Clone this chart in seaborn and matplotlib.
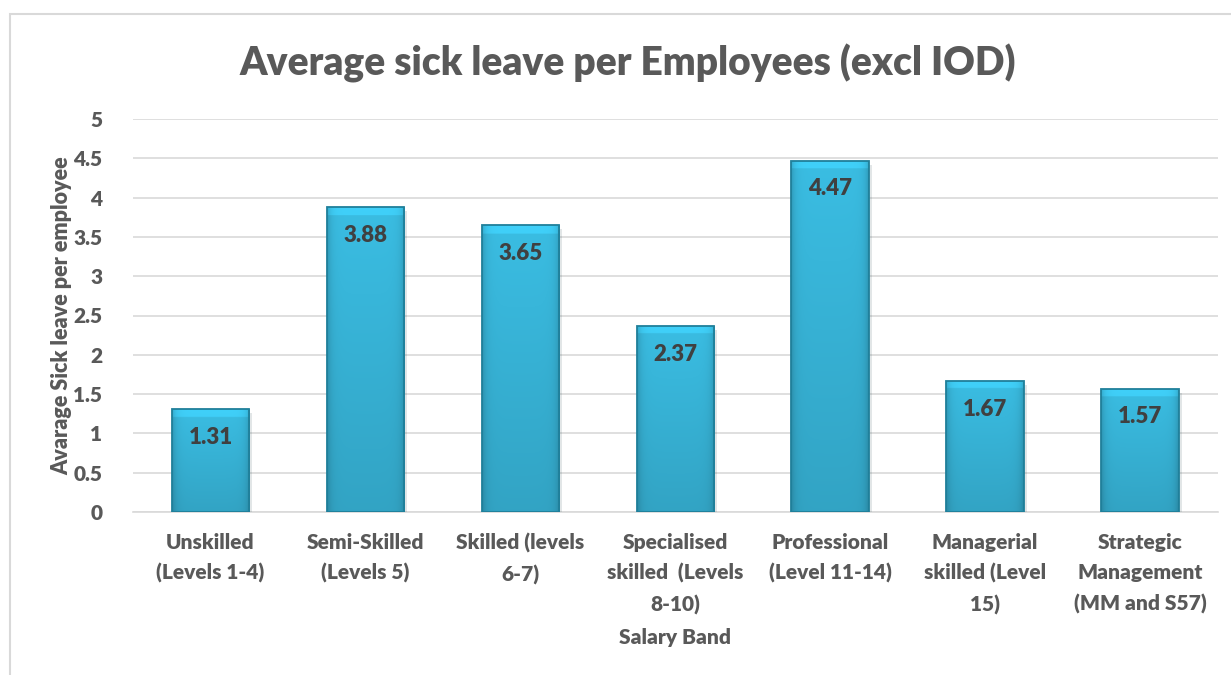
import pandas as pd
import numpy as np
import seaborn as sns
import matplotlib.pyplot as plt
from matplotlib.patches import Rectangle
from matplotlib.colors import to_rgb
import matplotlib.patheffects as pe

# valores
bands = ['Unskilled\n(Levels 1-4)', 'Semi-Skilled\n(Levels 5)', 'Skilled (levels\n6-7)',
         'Specialised\nskilled  (Levels\n8-10)', 'Professional\n(Level 11-14)',
         'Managerial\nskilled (Level\n15)', 'Strategic\nManagement\n(MM and S57)']
sick_leave = [1.31, 3.88, 3.65, 2.37, 4.47, 1.67, 1.57]
y_ticks = [0, 0.5, 1, 1.5, 2, 2.5, 3, 3.5, 4, 4.5, 5]

df = pd.DataFrame({'Salary Band': bands, 'Sick leave': sick_leave})

sns.set_style('white')
plt.rcParams['font.family'] = ['Lato', 'DejaVu Sans']
text_gray = '#595959'
W = 'heavy'
base = np.array(to_rgb('#38B6DA'))

fig = plt.figure(figsize=(12.31, 6.75), dpi=100)
ax = fig.add_axes([133 / 1231, 1 - 512 / 675, (1217.5 - 133) / 1231, (512 - 119) / 675])

# moldura do gráfico
fig.patches.append(Rectangle((10 / 1231, -0.1), 1.2, 1 - 14 / 675 + 0.1, transform=fig.transFigure,
                             fill=False, edgecolor='#D9D9D9', linewidth=1.5))

sns.barplot(data=df, x='Salary Band', y='Sick leave', color='#38B6DA', saturation=1,
            width=0.5, linewidth=0, ax=ax, zorder=3)

# efeito 3D: degradê dentro de cada barra + sombra + contorno
for p in list(ax.patches):
    x0, y0, w, h = p.get_x(), p.get_y(), p.get_width(), p.get_height()
    p.set_path_effects([pe.SimplePatchShadow(offset=(2, -3), alpha=0.12), pe.Normal()])
    ny, nx = 300, 80
    yy = np.linspace(0, h, ny)[:, None]
    u = np.linspace(0, 1, nx)[None, :]
    f = 0.9 + 0.14 * (yy / h)
    f = f * (1 - 0.18 * np.exp(-u / 0.05) - 0.18 * np.exp(-(1 - u) / 0.05))
    f = np.where((h - yy) < 0.1, f * 1.1, f)
    img = np.clip(base[None, None, :] * f[:, :, None], 0, 1)
    im = ax.imshow(img, extent=[x0, x0 + w, y0, y0 + h], origin='lower', aspect='auto',
                   zorder=3.2, interpolation='bilinear')
    im.set_clip_path(p)
    ax.add_patch(Rectangle((x0, y0), w, h, fill=False, edgecolor='#1F7F9A',
                           linewidth=1.3, zorder=3.4))

for i, v in enumerate(sick_leave):
    ax.text(i, v - 0.36, f'{v:.2f}', ha='center', va='center', fontsize=16,
            fontweight=W, color='#404040', zorder=4)

ax.set_xlim(-0.5, len(bands) - 0.5)
ax.set_ylim(0, 5)
ax.set_yticks(y_ticks)
ax.set_yticklabels([f'{t:g}' for t in y_ticks])
ax.yaxis.grid(True, color='#D9D9D9', linewidth=1.2, zorder=0)
for s in ['top', 'right', 'left']:
    ax.spines[s].set_visible(False)
ax.spines['bottom'].set_color('#D9D9D9')
ax.spines['bottom'].set_linewidth(1.2)
ax.tick_params(axis='both', length=0, labelsize=15, labelcolor=text_gray)
ax.tick_params(axis='y', pad=22)
ax.tick_params(axis='x', pad=15)
for lab in ax.get_xticklabels() + ax.get_yticklabels():
    lab.set_fontweight(W)
    lab.set_linespacing(1.7)

ax.set_xlabel('Salary Band', fontsize=15, fontweight=W, color=text_gray, labelpad=9)
ax.set_ylabel('Avarage Sick leave per employee', fontsize=15.5, fontweight=W,
              color=text_gray, labelpad=1)

fig.text(628 / 1231, 1 - 63 / 675, 'Average sick leave per Employees (excl IOD)', ha='center',
         va='center', fontsize=28, fontweight=W, color=text_gray)

plt.savefig('out.png', dpi=100)
